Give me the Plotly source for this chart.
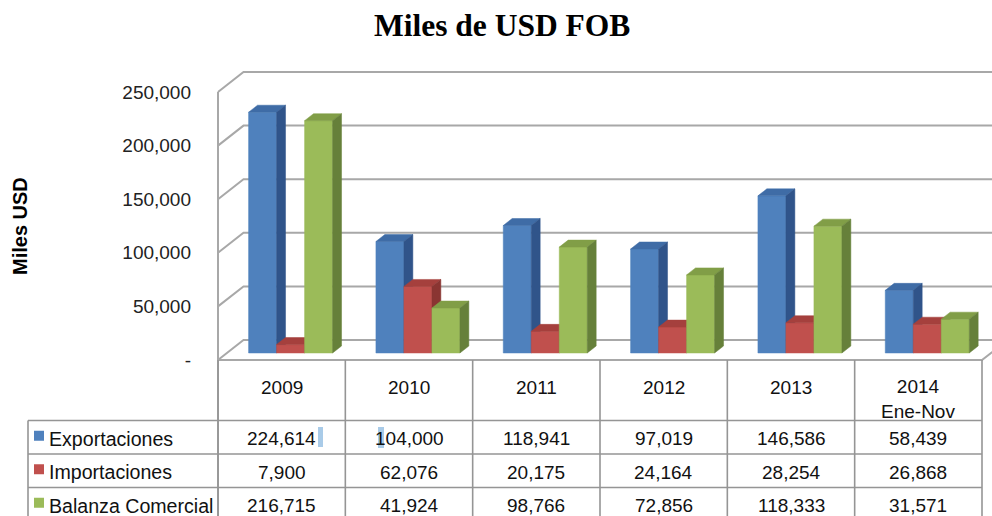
import plotly.graph_objects as go

# ---------------- data ----------------
years = ["2009", "2010", "2011", "2012", "2013", "2014<br>Ene-Nov"]
series_names = ["Exportaciones", "Importaciones", "Balanza Comercial"]
exportaciones = [224614, 104000, 118941, 97019, 146586, 58439]
importaciones = [7900, 62076, 20175, 24164, 28254, 26868]
balanza = [216715, 41924, 98766, 72856, 118333, 31571]
y_ticks = [0, 50000, 100000, 150000, 200000, 250000]
y_tick_labels = ["-", "50,000", "100,000", "150,000", "200,000", "250,000"]

series_values = [exportaciones, importaciones, balanza]
front_colors = ["#4F81BD", "#C0504D", "#9BBB59"]
top_colors = ["#3F6CA6", "#A5403D", "#819E47"]
side_colors = ["#30548A", "#8A3532", "#66803A"]

# ---------------- geometry (layout) ----------------
W, H = 992, 516
COL_LEFT_PX = 218.0
COL_W_PX = (982.0 - 218.0) / 6
FRONT_ZERO_PX = 360.0
PX_PER_UNIT = 1.072 / 1000.0


def px2x(px):
    return (px - COL_LEFT_PX) / COL_W_PX - 0.5


def py2y(py):
    return (FRONT_ZERO_PX - py) / PX_PER_UNIT


DX = 25.5 / COL_W_PX          # depth offset (x) from front plane to back wall
DY = 20.0 / PX_PER_UNIT       # depth offset (y)
T0, T1 = 0.35, 0.70           # bar depth range
BW = 28.0 / COL_W_PX          # bar width
XMAX = px2x(W + 20)
YMIN = py2y(H + 10)
n = len(years)

fig = go.Figure()

# back wall / left wall gridlines
gx, gy = [], []
for v in y_ticks:
    gx += [-0.5, -0.5 + DX, XMAX, None]
    gy += [v, v + DY, v + DY, None]
# left wall front edge (continues as table border)
gx += [-0.5, -0.5, None]
gy += [y_ticks[-1], YMIN, None]
# floor front edge + right floor edge
gx += [-0.5, n - 0.5, n - 0.5 + DX, None]
gy += [0, 0, DY, None]
fig.add_trace(go.Scatter(x=gx, y=gy, mode="lines",
                         line=dict(color="#a8a8a8", width=2),
                         hoverinfo="skip"))

# 3D bars
ddx = (T1 - T0) * DX
ddy = (T1 - T0) * DY
for j, vals in enumerate(series_values):
    fx, fy, tx, ty, sx, sy = [], [], [], [], [], []
    for i, v in enumerate(vals):
        xl = i + (j - 1.5) * BW + T0 * DX
        xr = xl + BW
        y0 = T0 * DY
        y1 = v + T0 * DY
        fx += [xl, xr, xr, xl, xl, None]
        fy += [y0, y0, y1, y1, y0, None]
        tx += [xl, xr, xr + ddx, xl + ddx, xl, None]
        ty += [y1, y1, y1 + ddy, y1 + ddy, y1, None]
        sx += [xr, xr + ddx, xr + ddx, xr, xr, None]
        sy += [y0, y0 + ddy, y1 + ddy, y1, y0, None]
    for xs, ys, col in ((fx, fy, front_colors[j]), (tx, ty, top_colors[j]), (sx, sy, side_colors[j])):
        fig.add_trace(go.Scatter(x=xs, y=ys, mode="lines", fill="toself",
                                 fillcolor=col, line=dict(color=col, width=0.5),
                                 hoverinfo="skip", name=series_names[j]))

# ---------------- data table ----------------
HEADER_BOTTOM_PX = 420.5
ROW_EDGES_PX = [420.5, 454.0, 487.5, 521.0]
LABEL_LEFT_PX = 28.0

tx_, ty_ = [], []
for py in ROW_EDGES_PX[:-1]:
    tx_ += [px2x(LABEL_LEFT_PX), n - 0.5, None]
    ty_ += [py2y(py), py2y(py), None]
for k in range(n + 1):
    tx_ += [k - 0.5, k - 0.5, None]
    ty_ += [0, YMIN, None]
tx_ += [px2x(LABEL_LEFT_PX), px2x(LABEL_LEFT_PX), None]
ty_ += [py2y(HEADER_BOTTOM_PX), YMIN, None]
fig.add_trace(go.Scatter(x=tx_, y=ty_, mode="lines",
                         line=dict(color="#959595", width=1.6),
                         hoverinfo="skip"))

row_centers = [(ROW_EDGES_PX[r] + ROW_EDGES_PX[r + 1]) / 2 for r in range(3)]

# legend keys in the table
fig.add_trace(go.Scatter(
    x=[px2x(39)] * 3,
    y=[py2y(c - 1.5) for c in row_centers],
    mode="markers",
    marker=dict(symbol="square", size=10, color=front_colors, line=dict(width=0)),
    hoverinfo="skip"))

FONT = "Liberation Sans, Arial, sans-serif"
annotations = []
# header years
for i, yr in enumerate(years):
    annotations.append(dict(x=i, y=py2y(387 if "<br>" not in yr else 398.5),
                            xref="x", yref="y", text=yr, showarrow=False,
                            font=dict(family=FONT, size=19, color="#111"),
                            xanchor="center", yanchor="middle"))
# row labels and values
for r, (name, vals) in enumerate(zip(series_names, series_values)):
    annotations.append(dict(x=px2x(47), y=py2y(row_centers[r] + 1.5),
                            xref="x", yref="y", text=name, showarrow=False,
                            font=dict(family=FONT, size=19.6, color="#111"),
                            xanchor="left", yanchor="middle"))
    for i, v in enumerate(vals):
        annotations.append(dict(x=i, y=py2y(row_centers[r] + 1.5),
                                xref="x", yref="y", text=f"{v:,}", showarrow=False,
                                font=dict(family=FONT, size=19, color="#111"),
                                xanchor="center", yanchor="middle"))

# title and axis title
annotations.append(dict(x=502 / W, y=1 - 26 / H, xref="paper", yref="paper",
                        text="<b>Miles de USD FOB</b>", showarrow=False,
                        font=dict(family="Liberation Serif, Times New Roman, serif", size=31.5, color="#000"),
                        xanchor="center", yanchor="middle"))
annotations.append(dict(x=20 / W, y=1 - 226 / H, xref="paper", yref="paper",
                        text="<b>Miles USD</b>", showarrow=False, textangle=-90,
                        font=dict(family=FONT, size=20, color="#000"),
                        xanchor="center", yanchor="middle"))

# text-selection artefacts visible in the source image
shapes = [
    dict(type="rect", xref="x", yref="y", x0=px2x(318), x1=px2x(323),
         y0=py2y(447), y1=py2y(427), fillcolor="#a9cbe8", line=dict(width=0), layer="above"),
    dict(type="rect", xref="x", yref="y", x0=px2x(378), x1=px2x(384),
         y0=py2y(448), y1=py2y(427), fillcolor="#a9cbe8", line=dict(width=0), layer="above"),
]

fig.update_layout(
    width=W, height=H,
    margin=dict(l=0, r=0, t=0, b=0, pad=0),
    paper_bgcolor="white", plot_bgcolor="white",
    showlegend=False, hovermode=False,
    annotations=annotations, shapes=shapes,
    xaxis=dict(range=[px2x(0), px2x(W)], visible=False, fixedrange=True),
    yaxis=dict(range=[py2y(H), py2y(0)], anchor="free", position=COL_LEFT_PX / W,
               tickvals=y_ticks, ticktext=y_tick_labels, showgrid=False,
               zeroline=False, showline=False, ticks="", ticklabelstandoff=27,
               tickfont=dict(family=FONT, size=19, color="#222"), fixedrange=True),
)

fig.write_html("out.html", config={"displayModeBar": False},
               post_script="document.body.style.margin='0';document.body.style.overflow='hidden';")
